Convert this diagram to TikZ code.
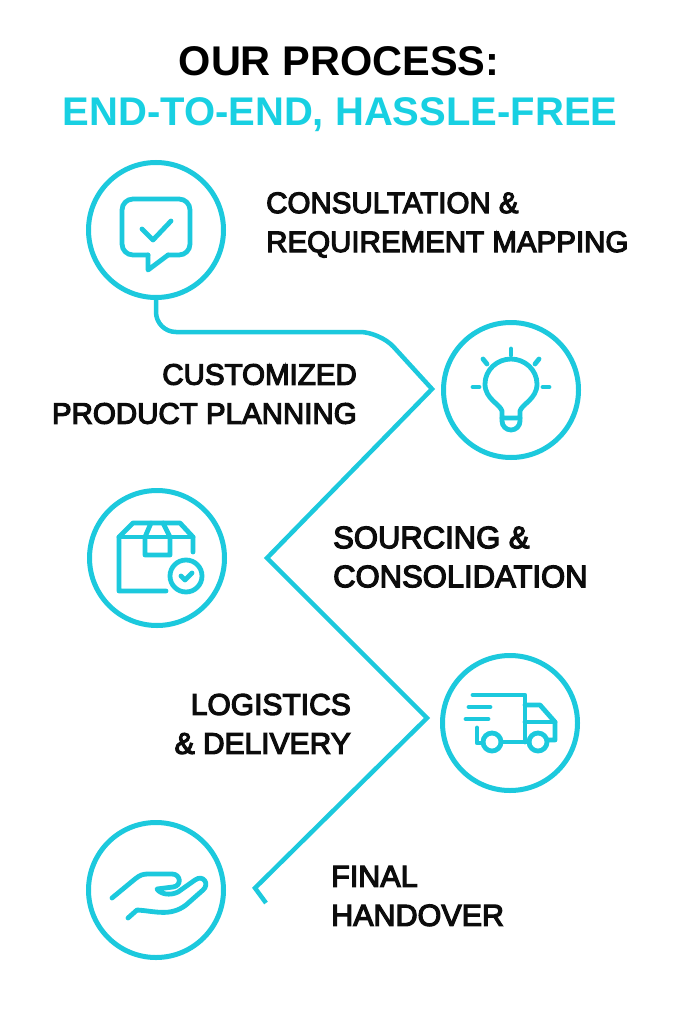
\documentclass[tikz,border=0pt]{standalone}
\usepackage{fontspec}
\usepackage{xcolor}
\newfontfamily\stepfont{Liberation Sans}[FakeBold=4]
\newfontfamily\headfont{Liberation Sans Bold}
\definecolor{flowcyan}{HTML}{1CC9DD}
\definecolor{headcyan}{HTML}{18D0E2}
\definecolor{inkblack}{HTML}{0C0C0C}
\tikzset{
  stepcircle/.style={circle, draw=flowcyan, line width=5pt, minimum size=135pt, inner sep=0pt, outer sep=2.5pt},
  flowline/.style={draw=flowcyan, line width=4.5pt, line join=miter},
  iconline/.style={draw=flowcyan, line width=4.8pt, line cap=round, line join=round},
  steptext/.style={text=inkblack, font=\stepfont\fontsize{#1}{39}\selectfont, inner sep=0pt},
  steptext/.default=29.5,
  headtext/.style={font=\headfont\fontsize{#1}{45}\selectfont, inner sep=0pt}
}
\begin{document}
\begin{tikzpicture}[x=1pt, y=-1pt]
  \useasboundingbox (0,0) rectangle (683,1024);
  \fill[white] (0,0) rectangle (683,1024);
  \node[headtext=41.5, text=black] (title) at (339,61) {OUR PROCESS:};
  \node[headtext=40, text=headcyan] (subtitle) at (340,115) {END-TO-END, HASSLE-FREE};

  \node[stepcircle] (consult) at (156,230) {};
  \node[stepcircle] (plan) at (511,390) {};
  \node[stepcircle] (source) at (157,558) {};
  \node[stepcircle] (deliver) at (510,723) {};
  \node[stepcircle] (handover) at (156,890) {};

  \node[steptext, anchor=west, align=left] (consulttext) at (266,225) {CONSULTATION \&\\REQUIREMENT MAPPING};
  \node[steptext, anchor=east, align=right] (plantext) at (357,394) {CUSTOMIZED\\PRODUCT PLANNING};
  \node[steptext=31, anchor=west, align=left] (sourcetext) at (333,557) {SOURCING \&\\CONSOLIDATION};
  \node[steptext=30, anchor=east, align=right] (delivertext) at (351,724) {LOGISTICS\\\& DELIVERY};
  \node[steptext=30.5, anchor=west, align=left] (handovertext) at (331,896) {FINAL\\HANDOVER};

  % path between the steps
  \coordinate (bendA) at (156,332);
  \coordinate (bendB) at (380,332);
  \coordinate (tipA) at (432,389);
  \coordinate (tipB) at (267,558);
  \coordinate (tipC) at (427,718);
  \coordinate (tipD) at (255,888);
  \coordinate (lineend) at (266,903);
  \draw[flowline, rounded corners=20pt] (consult.south) -- (bendA) -- (bendB) [sharp corners] -- (tipA) -- (tipB) -- (tipC) -- (tipD) -- (lineend);

  % speech bubble
  \draw[iconline, rounded corners=11pt] (148,255) -- (122,255) -- (122,199) -- (190,199) -- (190,255) -- (168,255);
  \draw[iconline] (148,255) -- (148,270) -- (168,255);
  \draw[iconline] (142,229) -- (153,240) -- (171,221);

  % bulb
  \draw[iconline] (502,418) -- (502,411) .. controls (500,404) and (485,399) .. (485,384)
    .. controls (485,370) and (497,359) .. (511,359) .. controls (525,359) and (537,370) .. (537,384)
    .. controls (537,399) and (522,404) .. (520,411) -- (520,418) -- cycle;
  \draw[iconline] (502,418) -- (502,421) arc[start angle=180, end angle=0, radius=9pt, y radius=-9pt] -- (520,418);
  \draw[iconline] (511,349) -- (511,355);
  \draw[iconline] (483,359) -- (487,364);
  \draw[iconline] (539,359) -- (535,364);
  \draw[iconline] (473,387) -- (479,387);
  \draw[iconline] (543,387) -- (549,387);

  % parcel
  \draw[iconline] (166,591) -- (119,591) -- (119,537) -- (133,523) -- (180,523) -- (193,537) -- (193,552);
  \draw[iconline] (119,537) -- (193,537);
  \draw[iconline] (151,523) -- (145,537) -- (145,555) -- (170,555) -- (170,537) -- (163,523);
  \draw[iconline] (186,576) circle[radius=16pt];
  \draw[iconline] (181,576) -- (185,580) -- (192,573);

  % truck
  \draw[iconline] (473,695) -- (525,695) -- (525,742);
  \draw[iconline] (469,707) -- (490,707);
  \draw[iconline] (466,719) -- (488,719);
  \draw[iconline] (477,728) -- (477,743) -- (483,743);
  \draw[iconline] (501,742) -- (529,742);
  \draw[iconline] (492,742) circle[radius=9pt];
  \draw[iconline] (538,742) circle[radius=9pt];
  \draw[iconline] (525,705) -- (540,705) -- (555,722) -- (555,740) -- (547,740);
  \draw[iconline] (525,722) -- (555,722);

  % hand
  \draw[iconline] (112,898) -- (135,879) .. controls (140,875) and (143,874) .. (148,874) -- (172,874)
    .. controls (181,874) and (182,886) .. (173,887) -- (157,889)
    .. controls (160,894) and (170,896) .. (178,892) -- (195,880)
    .. controls (203,874) and (210,884) .. (203,890) -- (186,905)
    .. controls (170,917) and (155,911) .. (137,910) -- (128,918);
\end{tikzpicture}
\end{document}
